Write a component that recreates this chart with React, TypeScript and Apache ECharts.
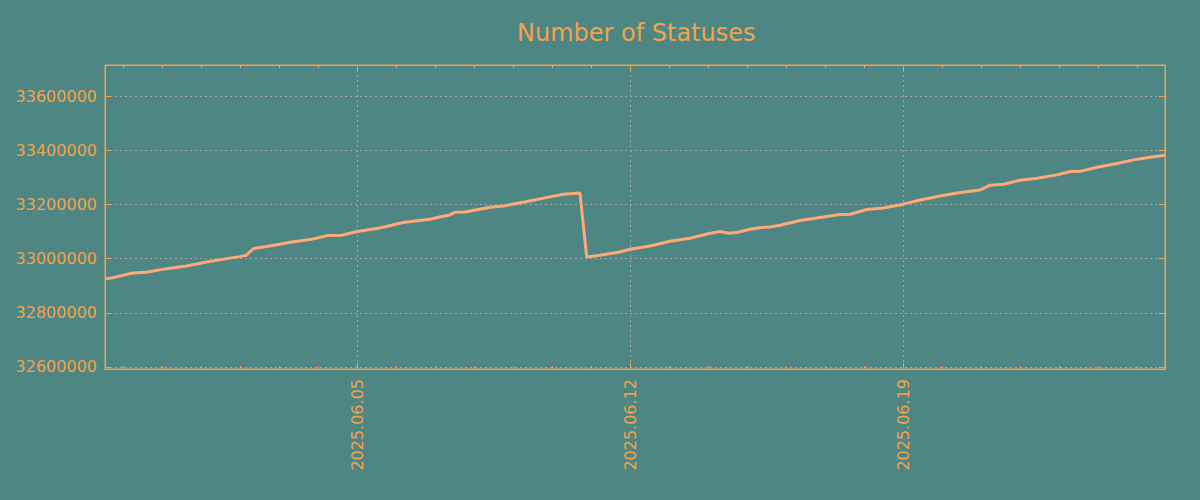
import React, { useEffect, useRef } from "react";
import * as echarts from "echarts";

const TITLE = "Number of Statuses";

const times: string[] = [
  "2025-05-29 12:42", "2025-05-29 17:38", "2025-05-30 06:00", "2025-05-30 14:12",
  "2025-05-31 02:30", "2025-05-31 14:54", "2025-06-01 03:12", "2025-06-01 15:30",
  "2025-06-01 23:42", "2025-06-02 03:48", "2025-06-02 06:00", "2025-06-02 08:18",
  "2025-06-02 16:06", "2025-06-03 00:18", "2025-06-03 06:30", "2025-06-03 18:48",
  "2025-06-04 06:06", "2025-06-04 14:18", "2025-06-05 00:00", "2025-06-05 13:55",
  "2025-06-06 04:16", "2025-06-06 20:43", "2025-06-07 02:53", "2025-06-07 09:03",
  "2025-06-07 12:07", "2025-06-07 18:17", "2025-06-08 09:41", "2025-06-08 17:53",
  "2025-06-09 06:12", "2025-06-09 22:38", "2025-06-10 06:50", "2025-06-10 15:06",
  "2025-06-10 17:08", "2025-06-10 21:15", "2025-06-11 05:27", "2025-06-11 17:46",
  "2025-06-12 00:00", "2025-06-12 12:14", "2025-06-13 00:33", "2025-06-13 12:53",
  "2025-06-13 23:11", "2025-06-14 07:22", "2025-06-14 12:29", "2025-06-14 17:40",
  "2025-06-15 01:51", "2025-06-15 10:02", "2025-06-15 14:10", "2025-06-15 20:20",
  "2025-06-16 08:38", "2025-06-16 20:57", "2025-06-17 09:17", "2025-06-17 15:26",
  "2025-06-18 01:44", "2025-06-18 11:57", "2025-06-19 00:00", "2025-06-19 10:34",
  "2025-06-19 22:54", "2025-06-20 11:13", "2025-06-20 23:31", "2025-06-21 05:41",
  "2025-06-21 13:53", "2025-06-22 00:10", "2025-06-22 10:28", "2025-06-22 22:47",
  "2025-06-23 06:59", "2025-06-23 13:09", "2025-06-23 23:25", "2025-06-24 11:45",
  "2025-06-25 00:04", "2025-06-25 08:15", "2025-06-25 17:18",
];

const statuses: number[] = [
  32926000, 32929800, 32946800, 32949400,
  32963000, 32972600, 32987400, 33000000,
  33007400, 33012200, 33026000, 33037000,
  33044400, 33052900, 33060300, 33070200,
  33085000, 33086000, 33099800, 33113100,
  33133100, 33145300, 33153800, 33161200,
  33171200, 33172000, 33189700, 33194500,
  33208100, 33227800, 33237700, 33241400,
  33241800, 33005900, 33012200, 33024400,
  33034400, 33046600, 33064000, 33075000,
  33091000, 33099800, 33093500, 33096100,
  33108300, 33115700, 33116500, 33123100,
  33140500, 33151600, 33162700, 33163800,
  33181100, 33187100, 33201000, 33216600,
  33231400, 33244000, 33253600, 33271000,
  33274700, 33289500, 33296900, 33309100,
  33321600, 33322000, 33337500, 33351200,
  33367100, 33374500, 33381500,
];

const xRange: string[] = ["2025-05-29 12:42", "2025-06-25 17:18"];
const yRange: number[] = [32592600, 33714600];
const yTicks: number[] = [32600000, 32800000, 33000000, 33200000, 33400000, 33600000];
const weeklyTicks: string[] = ["2025-06-05 00:00", "2025-06-12 00:00", "2025-06-19 00:00"];
const dailyTicks: string[] = [
  "2025-05-30 00:00", "2025-05-31 00:00", "2025-06-01 00:00", "2025-06-02 00:00",
  "2025-06-03 00:00", "2025-06-04 00:00", "2025-06-05 00:00", "2025-06-06 00:00",
  "2025-06-07 00:00", "2025-06-08 00:00", "2025-06-09 00:00", "2025-06-10 00:00",
  "2025-06-11 00:00", "2025-06-12 00:00", "2025-06-13 00:00", "2025-06-14 00:00",
  "2025-06-15 00:00", "2025-06-16 00:00", "2025-06-17 00:00", "2025-06-18 00:00",
  "2025-06-19 00:00", "2025-06-20 00:00", "2025-06-21 00:00", "2025-06-22 00:00",
  "2025-06-23 00:00", "2025-06-24 00:00", "2025-06-25 00:00",
];

const toMs = (s: string) => new Date(s.replace(" ", "T") + ":00").getTime();
const pad = (n: number) => (n < 10 ? "0" + n : "" + n);
const fmtDate = (v: number) => {
  const d = new Date(v);
  return `${d.getFullYear()}.${pad(d.getMonth() + 1)}.${pad(d.getDate())}`;
};

const BG = "#4e8683";
const ORANGE = "#f4a24c";
const LINE = "#ffa878";
const GRID = "#a3a8a6";
const FONT = "DejaVu Sans";

export default function App() {
  const ref = useRef<HTMLDivElement>(null);
  useEffect(() => {
    if (!ref.current) return;
    const chart = echarts.init(ref.current, undefined, { renderer: "svg" });
    const xMin = toMs(xRange[0]);
    const xMax = toMs(xRange[1]);
    const weekly = weeklyTicks.map(toMs);
    const daily = dailyTicks.map(toMs);
    const data = times.map((t, i) => [toMs(t), statuses[i]]);
    const axisLine = { show: true, onZero: false, lineStyle: { color: ORANGE, width: 1 } };
    const hidden = { show: false };
    chart.setOption({
      animation: false,
      backgroundColor: BG,
      textStyle: { fontFamily: FONT },
      title: {
        text: TITLE,
        left: 512,
        top: 16,
        textStyle: { color: ORANGE, fontSize: 24, fontWeight: "normal", fontFamily: FONT },
      },
      grid: {
        left: 105,
        right: 35,
        top: 65,
        bottom: 131,
        containLabel: false,
        show: true,
        borderColor: ORANGE,
        borderWidth: 1,
        backgroundColor: "transparent",
      },
      xAxis: [
        {
          type: "value",
          position: "bottom",
          min: xMin,
          max: xMax,
          axisLine,
          axisTick: { show: true, inside: true, length: 6, customValues: weekly, lineStyle: { color: ORANGE } },
          axisLabel: {
            show: true,
            customValues: weekly,
            rotate: 90,
            margin: 10,
            color: ORANGE,
            fontSize: 16,
            fontFamily: FONT,
            formatter: (v: number) => fmtDate(v),
          },
          splitLine: { show: true, lineStyle: { color: GRID, type: [2, 3], width: 1 } },
        },
        {
          type: "value",
          position: "bottom",
          min: xMin,
          max: xMax,
          axisLine: hidden,
          axisTick: { show: true, inside: true, length: 3, customValues: daily, lineStyle: { color: ORANGE } },
          axisLabel: hidden,
          splitLine: hidden,
        },
        {
          type: "value",
          position: "top",
          min: xMin,
          max: xMax,
          axisLine,
          axisTick: { show: true, inside: true, length: 6, customValues: weekly, lineStyle: { color: ORANGE } },
          axisLabel: hidden,
          splitLine: hidden,
        },
        {
          type: "value",
          position: "top",
          min: xMin,
          max: xMax,
          axisLine: hidden,
          axisTick: { show: true, inside: true, length: 3, customValues: daily, lineStyle: { color: ORANGE } },
          axisLabel: hidden,
          splitLine: hidden,
        },
      ],
      yAxis: [
        {
          type: "value",
          position: "left",
          min: yRange[0],
          max: yRange[1],
          axisLine,
          axisTick: { show: true, inside: true, length: 6, customValues: yTicks, lineStyle: { color: ORANGE } },
          axisLabel: {
            show: true,
            customValues: yTicks,
            margin: 8,
            color: ORANGE,
            fontSize: 16,
            fontFamily: FONT,
            formatter: (v: number) => String(v),
          },
          splitLine: { show: true, lineStyle: { color: GRID, type: [2, 3], width: 1 } },
        },
        {
          type: "value",
          position: "right",
          min: yRange[0],
          max: yRange[1],
          axisLine,
          axisTick: { show: true, inside: true, length: 6, customValues: yTicks, lineStyle: { color: ORANGE } },
          axisLabel: hidden,
          splitLine: hidden,
        },
      ],
      series: [
        {
          type: "line",
          name: TITLE,
          xAxisIndex: 0,
          yAxisIndex: 0,
          data,
          showSymbol: false,
          symbol: "none",
          lineStyle: { color: LINE, width: 3 },
          itemStyle: { color: LINE },
        },
      ],
    });
    return () => chart.dispose();
  }, []);
  return (
    <div
      ref={ref}
      style={{ position: "fixed", left: 0, top: 0, width: 1200, height: 500 }}
    />
  );
}
